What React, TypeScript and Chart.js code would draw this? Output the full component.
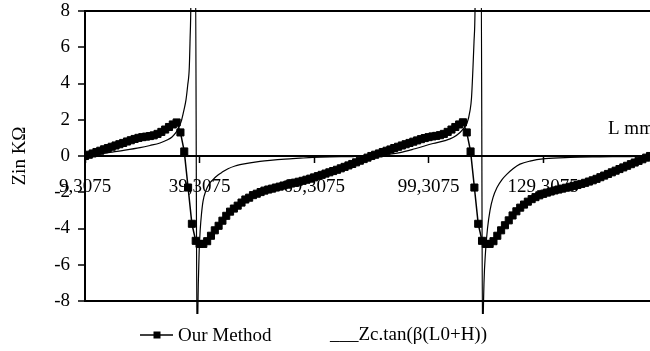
import React, { useEffect, useRef } from 'react';
import { Chart, registerables } from 'chart.js';

Chart.register(...registerables);

// ---- data ----
const X_MIN = 9.3075;
const X_MAX = 157.3075;
const X_TICKS = [9.3075, 39.3075, 69.3075, 99.3075, 129.3075];
const Y_TICKS = [-8, -6, -4, -2, 0, 2, 4, 6, 8];

const SERIES_NAMES = ['Our Method', '___Zc.tan(β(L0+H))'];
const Y_TITLE = 'Zin KΩ';
const X_TITLE = 'L mm';

// "Our Method": one sample per mm starting at L = 9.3075
const METHOD_L_START = 9.3075;
const METHOD_L_STEP = 1;
const METHOD_Z = [
  0.00, 0.07, 0.14, 0.22, 0.29, 0.37, 0.44, 0.51, 0.58, 0.65,
  0.72, 0.80, 0.87, 0.94, 1.00, 1.04, 1.07, 1.10, 1.14, 1.22,
  1.33, 1.46, 1.60, 1.74, 1.85, 1.30, 0.25, -1.74, -3.74, -4.68,
  -4.85, -4.85, -4.70, -4.40, -4.10, -3.85, -3.57, -3.30, -3.07, -2.90,
  -2.74, -2.57, -2.40, -2.30, -2.16, -2.08, -1.99, -1.91, -1.85, -1.80,
  -1.74, -1.69, -1.63, -1.58, -1.52, -1.47, -1.42, -1.37, -1.31, -1.25,
  -1.18, -1.11, -1.04, -0.97, -0.90, -0.83, -0.76, -0.68, -0.60, -0.52,
  -0.44, -0.35, -0.26, -0.17, -0.09, 0.00, 0.07, 0.14, 0.22, 0.29,
  0.36, 0.44, 0.51, 0.58, 0.65, 0.72, 0.79, 0.86, 0.93, 0.99,
  1.04, 1.08, 1.11, 1.15, 1.22, 1.33, 1.46, 1.60, 1.74, 1.86,
  1.30, 0.25, -1.74, -3.74, -4.68, -4.85, -4.85, -4.70, -4.40, -4.10,
  -3.82, -3.55, -3.28, -3.05, -2.85, -2.68, -2.52, -2.38, -2.27, -2.17,
  -2.09, -2.02, -1.96, -1.90, -1.85, -1.80, -1.75, -1.70, -1.65, -1.60,
  -1.54, -1.48, -1.41, -1.34, -1.26, -1.17, -1.08, -0.99, -0.90, -0.81,
  -0.72, -0.63, -0.54, -0.45, -0.36, -0.27, -0.18, -0.09, 0.00,
];

// Zc.tan(beta(L0+H)) curve
const TAN_L = [
  9.31, 11.93, 15.86, 19.79, 23.71, 26.33, 28.95, 30.79, 32.10, 33.15,
  33.93, 34.64, 35.24, 35.76, 36.21, 36.63, 36.84, 37.02, 37.15, 38.20,
  38.70, 38.80, 38.99, 39.22, 39.48, 39.82, 40.22, 41.00, 41.79, 42.84,
  44.15, 45.19, 46.77, 48.60, 49.91, 52.53, 55.15, 57.77, 61.70, 65.63,
  69.03, 73.48, 79.51, 83.44, 86.58, 91.82, 95.75, 100.47, 103.61, 105.71,
  107.54, 108.59, 109.37, 110.16, 110.55, 110.94, 111.21, 111.47, 111.63, 113.04,
  113.49, 113.59, 113.82, 114.22, 114.74, 115.40, 116.18, 117.23, 118.54, 119.85,
  121.42, 123.25, 125.87, 129.80, 136.35, 144.21, 152.07, 156.78,
];
const TAN_Z = [
  0, 0.08, 0.2, 0.32, 0.46, 0.58, 0.72, 0.88, 1.05, 1.3,
  1.6, 2.0, 2.55, 3.1, 3.9, 4.9, 6.5, 8.2, 12, 12,
  -12, -9.5, -7, -5.2, -4.1, -3.2, -2.5, -1.9, -1.55, -1.3,
  -1.05, -0.9, -0.7, -0.55, -0.48, -0.38, -0.3, -0.24, -0.17, -0.12,
  -0.08, -0.05, -0.03, 0, 0.06, 0.19, 0.4, 0.69, 0.85, 1.02,
  1.3, 1.55, 1.8, 2.5, 3.2, 4.9, 6.3, 8.0, 12, 12,
  -12, -9.5, -7, -5.3, -4.0, -3.0, -2.3, -1.74, -1.3, -1.0,
  -0.7, -0.45, -0.28, -0.15, -0.08, -0.05, -0.03, 0,
];

const FONT = '"Liberation Serif", "Times New Roman", serif';

const decorPlugin = {
  id: 'decor',
  afterDraw(chart: any) {
    const ctx = chart.ctx;
    const area = chart.chartArea;
    const ys = chart.scales.y;
    ctx.save();
    ctx.fillStyle = '#000';
    ctx.strokeStyle = '#000';
    ctx.font = `19px ${FONT}`;
    ctx.textBaseline = 'middle';
    ctx.textAlign = 'left';
    // axis title at right of x axis (cut by the right edge, as in the reference)
    ctx.fillText(X_TITLE, area.right - 42, ys.getPixelForValue(1.5));
    // legend
    const ly = 336;
    ctx.lineWidth = 1.5;
    ctx.beginPath();
    ctx.moveTo(140, ly - 1);
    ctx.lineTo(173, ly - 1);
    ctx.stroke();
    ctx.fillRect(153.5, ly - 4.5, 7, 7);
    ctx.fillText(SERIES_NAMES[0], 178, ly);
    ctx.fillText(SERIES_NAMES[1], 330, ly - 1);
    ctx.restore();
  },
};

export default function App() {
  const canvasRef = useRef<HTMLCanvasElement | null>(null);

  useEffect(() => {
    if (!canvasRef.current) return;
    Chart.defaults.font.family = FONT;
    Chart.defaults.font.size = 19;
    Chart.defaults.color = '#000';

    const methodData = METHOD_Z.map((z, i) => ({ x: METHOD_L_START + i * METHOD_L_STEP, y: z }));
    const tanData = TAN_L.map((l, i) => ({ x: l, y: TAN_Z[i] }));

    const chart = new Chart(canvasRef.current, {
      type: 'line',
      data: {
        datasets: [
          {
            label: SERIES_NAMES[0],
            data: methodData,
            borderColor: '#000',
            backgroundColor: '#000',
            borderWidth: 1.5,
            pointStyle: 'rect',
            pointRadius: 5,
            pointBorderWidth: 1,
            pointBackgroundColor: '#000',
            pointBorderColor: '#000',
            tension: 0,
          },
          {
            label: SERIES_NAMES[1],
            data: tanData,
            borderColor: '#000',
            borderWidth: 1.2,
            pointRadius: 0,
            cubicInterpolationMode: 'monotone',
            clip: { left: 0, right: 0, top: 3, bottom: 13 },
          },
        ],
      },
      options: {
        animation: false,
        responsive: true,
        maintainAspectRatio: false,
        devicePixelRatio: 1,
        layout: { autoPadding: false, padding: { top: 11, left: 0, right: 0, bottom: 50 } },
        plugins: { legend: { display: false }, tooltip: { enabled: false } },
        scales: {
          x: {
            type: 'linear',
            min: X_MIN,
            max: X_MAX,
            position: { y: 0 },
            afterBuildTicks: (s: any) => {
              s.ticks = X_TICKS.map((v) => ({ value: v }));
            },
            ticks: {
              autoSkip: false,
              maxRotation: 0,
              color: '#000',
              padding: 14,
              font: { size: 19, lineHeight: 1.2 },
              callback: (v: any) => Number(v).toFixed(4).replace('.', ','),
            },
            grid: {
              drawOnChartArea: false,
              drawTicks: true,
              tickLength: 6,
              tickColor: '#000',
              tickWidth: 1.5,
            },
            border: { display: true, color: '#000', width: 2 },
          },
          y: {
            type: 'linear',
            min: -8,
            max: 8,
            afterBuildTicks: (s: any) => {
              s.ticks = Y_TICKS.map((v) => ({ value: v }));
            },
            afterFit: (s: any) => {
              s.width = 85;
              s.paddingTop = 0;
              s.paddingBottom = 0;
            },
            ticks: {
              color: '#000',
              padding: 8,
              font: { size: 19, lineHeight: 1 },
              callback: (v: any) => String(v),
            },
            grid: {
              drawOnChartArea: true,
              color: (c: any) => (c.tick && Math.abs(c.tick.value) === 8 ? '#000' : 'rgba(0,0,0,0)'),
              lineWidth: 2,
              tickLength: 7,
              tickColor: '#000',
              tickWidth: 1.5,
            },
            border: { display: true, color: '#000', width: 2 },
            title: {
              display: true,
              text: Y_TITLE,
              color: '#000',
              font: { size: 19, lineHeight: 1.2 },
              padding: { top: 9, bottom: 0 },
            },
          },
        },
      },
      plugins: [decorPlugin],
    } as any);

    return () => chart.destroy();
  }, []);

  return (
    <div style={{ position: 'absolute', left: 0, top: 0, width: 650, height: 351, background: '#fff' }}>
      <canvas ref={canvasRef} />
    </div>
  );
}
